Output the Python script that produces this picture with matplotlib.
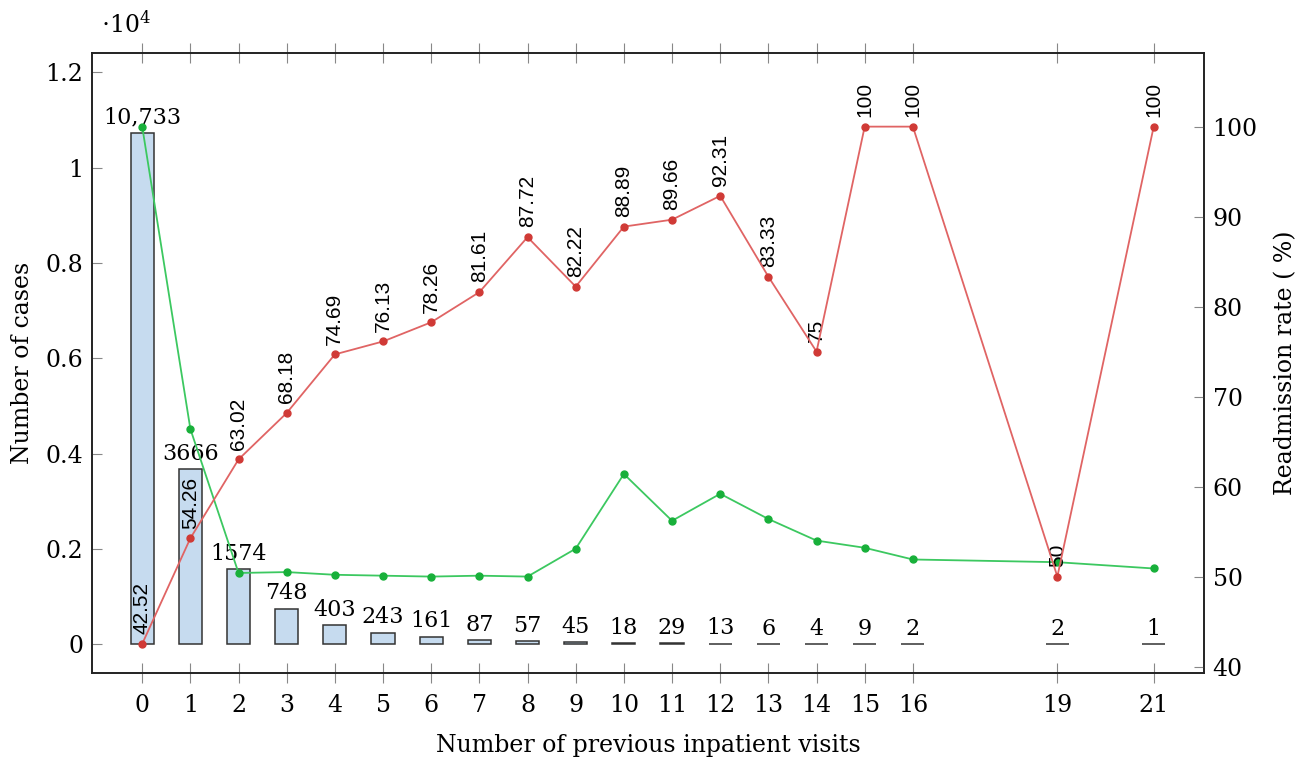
import matplotlib
matplotlib.use("Agg")
import matplotlib.pyplot as plt

# previous inpatient visits, number of cases and readmission rate
visits = [0, 1, 2, 3, 4, 5, 6, 7, 8, 9, 10, 11, 12, 13, 14, 15, 16, 19, 21]
cases = [10733, 3666, 1574, 748, 403, 243, 161, 87, 57, 45, 18, 29, 13, 6, 4, 9, 2, 2, 1]
case_labels = ["10,733", "3666", "1574", "748", "403", "243", "161", "87", "57", "45",
               "18", "29", "13", "6", "4", "9", "2", "2", "1"]
readmit = [42.52, 54.26, 63.02, 68.18, 74.69, 76.13, 78.26, 81.61, 87.72, 82.22,
           88.89, 89.66, 92.31, 83.33, 75, 100, 100, 50, 100]
readmit_labels = ["42.52", "54.26", "63.02", "68.18", "74.69", "76.13", "78.26", "81.61",
                  "87.72", "82.22", "88.89", "89.66", "92.31", "83.33", "75", "100",
                  "100", "50", "100"]
# second curve on the right scale
trend = [100, 66.4, 50.4, 50.5, 50.2, 50.1, 50.0, 50.1, 50.0, 53.1,
         61.4, 56.2, 59.2, 56.4, 54.0, 53.2, 51.9, 51.6, 50.9]

plt.rcParams["mathtext.fontset"] = "dejavuserif"
serif = ["DejaVu Serif"]
bar_fill = "#c6dbef"
red_line = "#e06464"
red_dot = "#d03a36"
green_line = "#3cc860"
green_dot = "#18b03a"
tick_grey = "#888888"

fig = plt.figure(figsize=(13.09, 7.6), dpi=100)
ax = fig.add_axes([0.070, 0.115, 0.850, 0.815])
ax2 = ax.twinx()

ax.bar(visits, [c / 1e4 for c in cases], width=0.48, color=bar_fill,
       edgecolor="#333333", linewidth=1.1, zorder=2)
for x, c, lab in zip(visits, cases, case_labels):
    ax.annotate(lab, (x, c / 1e4), xytext=(0, 3), textcoords="offset points",
                ha="center", va="bottom", fontsize=16, family=serif)

ax2.plot(visits, trend, color=green_line, lw=1.3, marker="o", ms=5,
         mfc=green_dot, mec=green_dot, zorder=3)
ax2.plot(visits, readmit, color=red_line, lw=1.3, marker="o", ms=5,
         mfc=red_dot, mec=red_dot, zorder=4)
for x, r, lab in zip(visits, readmit, readmit_labels):
    ax2.annotate(lab, (x, r), xytext=(0, 7), textcoords="offset points",
                 ha="center", va="bottom", rotation=90, fontsize=15,
                 family=["Liberation Sans"])

ax.set_xlim(-1.05, 22.05)
ax.set_ylim(-0.0596, 1.24)
ax2.set_ylim(39.33, 108.16)

ax.set_xticks(visits)
ax.set_xticklabels([str(v) for v in visits], family=serif, fontsize=17)
ax.set_yticks([0, 0.2, 0.4, 0.6, 0.8, 1.0, 1.2])
ax.set_yticklabels(["0", "0.2", "0.4", "0.6", "0.8", "1", "1.2"], family=serif, fontsize=17)
ax2.set_yticks([40, 50, 60, 70, 80, 90, 100])
ax2.set_yticklabels(["40", "50", "60", "70", "80", "90", "100"], family=serif, fontsize=17)

ax.tick_params(axis="x", direction="inout", length=15, color=tick_grey, top=True,
               labeltop=False, pad=8)
ax.tick_params(axis="y", direction="in", length=7, color=tick_grey, pad=6)
ax2.tick_params(axis="y", direction="in", length=7, color=tick_grey, pad=6)

for a in (ax, ax2):
    for s in a.spines.values():
        s.set_color("#222222")
        s.set_linewidth(1.2)

ax.set_xlabel("Number of previous inpatient visits", family=serif, fontsize=17, labelpad=12)
ax.set_ylabel("Number of cases", family=serif, fontsize=17, labelpad=8)
ax2.set_ylabel("Readmission rate ( %)", family=serif, fontsize=17, labelpad=12)
ax.text(0.008, 1.025, r"$\cdot 10^4$", transform=ax.transAxes, ha="left", va="bottom",
        fontsize=17)

fig.savefig("out.png", dpi=100)
